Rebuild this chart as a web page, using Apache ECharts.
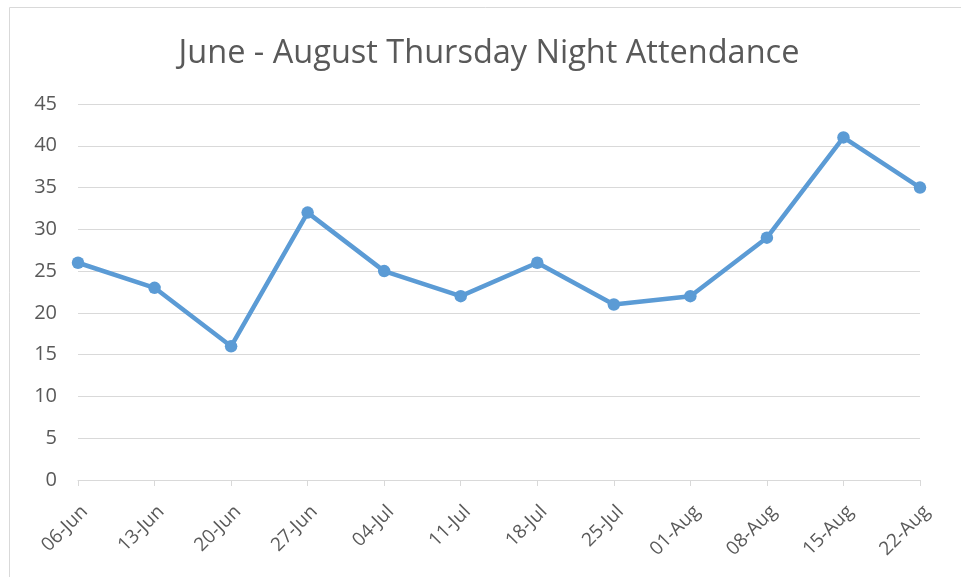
<!DOCTYPE html>
<html>
<head>
<meta charset="utf-8">
<script src="https://cdn.jsdelivr.net/npm/echarts@6/dist/echarts.min.js"></script>
<style>
html,body{margin:0;padding:0;background:#fff;}
#chart{width:961px;height:577px;}
</style>
</head>
<body>
<div id="chart"></div>
<script>
const categories = ['06-Jun','13-Jun','20-Jun','27-Jun','04-Jul','11-Jul','18-Jul','25-Jul','01-Aug','08-Aug','15-Aug','22-Aug'];
const attendance = [26, 23, 16, 32, 25, 22, 26, 21, 22, 29, 41, 35];
const titleText = 'June - August Thursday Night Attendance';

const chart = echarts.init(document.getElementById('chart'));
chart.setOption({
  animation: false,
  graphic: [{
    type: 'rect',
    shape: { x: 9.5, y: 7.5, width: 1000, height: 1000 },
    style: { fill: 'none', stroke: '#d9d9d9', lineWidth: 1 },
    silent: true
  }],
  title: {
    text: titleText,
    left: 484, top: 32, textAlign: 'center',
    textStyle: { fontFamily: 'Open Sans', fontWeight: 'normal', fontSize: 32.5, color: '#595959' }
  },
  grid: { left: 78, right: 41, top: 104, bottom: 97, containLabel: false },
  xAxis: {
    type: 'category',
    data: categories,
    boundaryGap: false,
    axisLine: { lineStyle: { color: '#d9d9d9', width: 1 } },
    axisTick: { show: true, length: 6, lineStyle: { color: '#d9d9d9' } },
    axisLabel: { rotate: 45, color: '#595959', fontFamily: 'Open Sans', fontSize: 19, margin: 22, verticalAlign: 'top' }
  },
  yAxis: {
    type: 'value',
    min: 0, max: 45, interval: 5,
    axisLine: { show: false },
    axisTick: { show: false },
    splitLine: { lineStyle: { color: '#d9d9d9', width: 1 } },
    axisLabel: { color: '#595959', fontFamily: 'Open Sans', fontSize: 20, margin: 21 }
  },
  series: [{
    type: 'line',
    data: attendance,
    symbol: 'circle',
    symbolSize: 12.5,
    itemStyle: { color: '#5b9bd5' },
    lineStyle: { color: '#5b9bd5', width: 4.5 }
  }]
});
</script>
</body>
</html>
